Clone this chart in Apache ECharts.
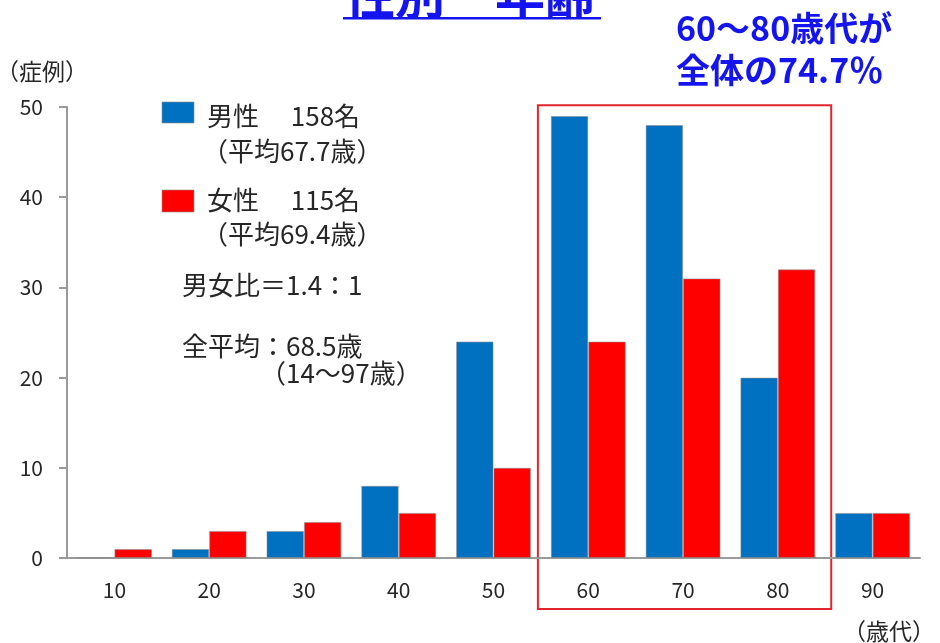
<!DOCTYPE html>
<html>
<head>
<meta charset="utf-8">
<style>
  html, body { margin: 0; padding: 0; background: #fff; }
  #chart { width: 940px; height: 643px; }
</style>
<script src="https://cdn.jsdelivr.net/npm/echarts@6/dist/echarts.min.js"></script>
</head>
<body>
<div id="chart"></div>
<script>
// 年代別の症例数（男性・女性）
const ageGroups = ['10', '20', '30', '40', '50', '60', '70', '80', '90'];
const maleCounts = [0, 1, 3, 8, 24, 49, 48, 20, 5];
const femaleCounts = [1, 3, 4, 5, 10, 24, 31, 32, 5];
const yTicks = { min: 0, max: 50, interval: 10 };

const FONT = '"Noto Sans CJK JP", "Noto Sans", sans-serif';
const TEXT_COLOR = '#262626';
const ACCENT = '#1414f0';
const MALE_COLOR = '#0070C0';
const FEMALE_COLOR = '#FF0000';

const chart = echarts.init(document.getElementById('chart'), null, { renderer: 'canvas' });

const option = {
  backgroundColor: '#ffffff',
  animation: false,
  grid: { left: 67, right: 20, top: 107, bottom: 85, containLabel: false },
  xAxis: {
    type: 'category',
    data: ageGroups,
    axisLine: { show: true, lineStyle: { color: '#9a9a9a', width: 2 } },
    axisTick: { show: false },
    axisLabel: { color: TEXT_COLOR, fontFamily: FONT, fontSize: 21, margin: 22 },
    splitLine: { show: false }
  },
  yAxis: {
    type: 'value',
    min: yTicks.min,
    max: yTicks.max,
    interval: yTicks.interval,
    axisLine: { show: true, lineStyle: { color: '#9a9a9a', width: 2 } },
    axisTick: { show: true, length: 8, lineStyle: { color: '#9a9a9a', width: 2 } },
    axisLabel: { color: TEXT_COLOR, fontFamily: FONT, fontSize: 21, margin: 24 },
    splitLine: { show: false }
  },
  series: [
    {
      name: '男性',
      type: 'bar',
      data: maleCounts,
      barGap: '0%',
      barCategoryGap: '21%',
      itemStyle: { color: MALE_COLOR, borderColor: 'rgba(140,140,140,0.55)', borderWidth: 1 }
    },
    {
      name: '女性',
      type: 'bar',
      data: femaleCounts,
      barGap: '0%',
      barCategoryGap: '21%',
      itemStyle: { color: FEMALE_COLOR, borderColor: 'rgba(140,140,140,0.55)', borderWidth: 1 }
    }
  ]
};
chart.setOption(option);

// 注記・凡例・強調枠
function txt(x, y, text, style) {
  return {
    type: 'text', x: x, y: y, silent: true,
    style: Object.assign({ text: text, fill: TEXT_COLOR, font: '26px ' + FONT, textVerticalAlign: 'middle' }, style || {})
  };
}

// 60～80歳代のカテゴリ境界をピクセル座標で求める
const c0 = chart.convertToPixel({ xAxisIndex: 0 }, ageGroups[0]);
const c1 = chart.convertToPixel({ xAxisIndex: 0 }, ageGroups[1]);
const band = c1 - c0;
const boxLeft = chart.convertToPixel({ xAxisIndex: 0 }, '60') - band / 2;
const boxRight = chart.convertToPixel({ xAxisIndex: 0 }, '80') + band / 2;
const boxTop = chart.convertToPixel({ yAxisIndex: 0 }, 50.2);

const elements = [
  // 見出し
  txt(345, 20, '性別　年齢', { fill: ACCENT, font: 'bold 50px ' + FONT, textVerticalAlign: 'bottom' }),
  { type: 'rect', silent: true, shape: { x: 343, y: 17, width: 258, height: 2.5 }, style: { fill: ACCENT } },
  txt(676, 28, '60～80歳代が', { fill: ACCENT, font: 'bold 34px ' + FONT }),
  txt(676, 70, '全体の74.7％', { fill: ACCENT, font: 'bold 34px ' + FONT }),
  // 軸タイトル
  txt(-4, 71, '（症例）', { font: '23px ' + FONT }),
  txt(843, 631, '（歳代）', { font: '23px ' + FONT }),
  // 凡例
  { type: 'rect', silent: true, shape: { x: 162, y: 102, width: 32, height: 21 }, style: { fill: MALE_COLOR, stroke: 'rgba(140,140,140,0.6)', lineWidth: 1 } },
  txt(207, 116, '男性　 158名'),
  txt(202, 151, '（平均67.7歳）'),
  { type: 'rect', silent: true, shape: { x: 162, y: 190, width: 32, height: 22 }, style: { fill: FEMALE_COLOR, stroke: 'rgba(140,140,140,0.6)', lineWidth: 1 } },
  txt(207, 200, '女性　 115名'),
  txt(202, 234, '（平均69.4歳）'),
  txt(182, 285, '男女比＝1.4：1'),
  txt(182, 346, '全平均：68.5歳'),
  txt(260, 373, '（14～97歳）'),
  // 60～80歳代の強調枠
  {
    type: 'rect', silent: true,
    shape: { x: boxLeft - 3, y: boxTop, width: (boxRight + 6) - (boxLeft - 3), height: 609 - boxTop },
    style: { fill: 'none', stroke: '#e0262b', lineWidth: 2 }
  }
];

chart.setOption({ graphic: { elements: elements } });
</script>
</body>
</html>
